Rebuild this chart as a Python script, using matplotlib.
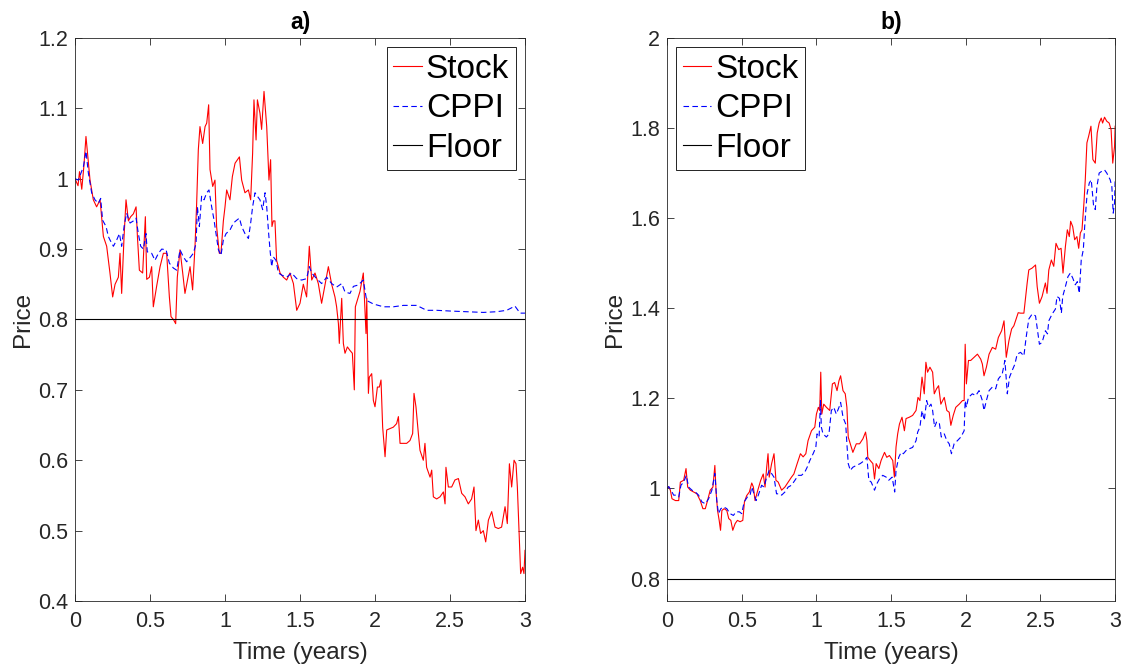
import matplotlib
matplotlib.use("Agg")
import matplotlib.pyplot as plt

plt.rcParams['font.family'] = ['Liberation Sans', 'DejaVu Sans']

# ---- panel a) ----
t_stock_a = [0, 0.02, 0.03, 0.045, 0.06, 0.073, 0.1, 0.122, 0.144, 0.167, 0.189, 0.211, 0.233, 0.251, 0.267,
             0.289, 0.3, 0.311, 0.327, 0.34, 0.356, 0.371, 0.389, 0.407, 0.416, 0.429, 0.451, 0.469, 0.478, 0.496,
             0.511, 0.522, 0.544, 0.567, 0.589, 0.611, 0.629, 0.64, 0.656, 0.671, 0.682, 0.7, 0.718, 0.733, 0.751,
             0.767, 0.784, 0.8, 0.811, 0.822, 0.833, 0.851, 0.867, 0.878, 0.891, 0.9, 0.918, 0.933, 0.944, 0.962,
             0.973, 0.989, 1.0, 1.011, 1.033, 1.049, 1.067, 1.096, 1.111, 1.133, 1.156, 1.171, 1.184, 1.193, 1.207,
             1.216, 1.233, 1.244, 1.26, 1.278, 1.293, 1.304, 1.313, 1.322, 1.333, 1.344, 1.367, 1.389, 1.411, 1.433,
             1.456, 1.478, 1.5, 1.522, 1.544, 1.562, 1.578, 1.6, 1.622, 1.644, 1.667, 1.689, 1.711, 1.733, 1.744,
             1.756, 1.762, 1.778, 1.789, 1.8, 1.816, 1.833, 1.849, 1.862, 1.869, 1.9, 1.922, 1.94, 1.945, 1.956,
             1.962, 1.978, 1.989, 2.0, 2.016, 2.029, 2.04, 2.051, 2.067, 2.078, 2.1, 2.122, 2.144, 2.156, 2.167,
             2.189, 2.211, 2.233, 2.251, 2.26, 2.273, 2.289, 2.3, 2.322, 2.333, 2.344, 2.367, 2.378, 2.389, 2.411,
             2.433, 2.456, 2.467, 2.473, 2.489, 2.511, 2.533, 2.556, 2.578, 2.6, 2.622, 2.644, 2.66, 2.673, 2.689,
             2.704, 2.722, 2.738, 2.756, 2.778, 2.8, 2.822, 2.844, 2.856, 2.867, 2.882, 2.896, 2.911, 2.927, 2.94,
             2.949, 2.96, 2.971, 2.984, 2.993, 3.0]
stock_a = [1.0, 0.99, 1.01, 0.985, 1.02, 1.06, 0.998, 0.97, 0.96, 0.97, 0.918, 0.904, 0.866, 0.832, 0.85,
           0.86, 0.894, 0.837, 0.918, 0.97, 0.94, 0.946, 0.95, 0.96, 0.918, 0.87, 0.866, 0.946, 0.857, 0.86,
           0.875, 0.818, 0.847, 0.875, 0.894, 0.894, 0.832, 0.804, 0.80, 0.794, 0.86, 0.899, 0.866, 0.837, 0.857,
           0.875, 0.842, 0.904, 0.965, 1.041, 1.074, 1.05, 1.074, 1.079, 1.105, 1.013, 0.989, 0.998, 0.932, 0.894,
           0.894, 0.94, 0.96, 0.984, 0.97, 1.003, 1.022, 1.031, 0.998, 0.98, 0.984, 0.97, 1.036, 1.112, 1.055,
           1.112, 1.093, 1.07, 1.124, 1.074, 0.998, 1.027, 0.932, 0.94, 0.94, 0.884, 0.866, 0.86, 0.856, 0.866,
           0.851, 0.813, 0.823, 0.85, 0.832, 0.904, 0.856, 0.866, 0.851, 0.823, 0.85, 0.875, 0.85, 0.832, 0.818,
           0.794, 0.766, 0.83, 0.766, 0.752, 0.761, 0.756, 0.752, 0.7, 0.818, 0.84, 0.866, 0.78, 0.83, 0.695,
           0.718, 0.723, 0.685, 0.676, 0.704, 0.704, 0.714, 0.647, 0.605, 0.643, 0.645, 0.647, 0.652, 0.662, 0.624,
           0.624, 0.624, 0.628, 0.638, 0.695, 0.676, 0.638, 0.614, 0.6, 0.624, 0.59, 0.576, 0.586, 0.548, 0.545,
           0.548, 0.555, 0.538, 0.59, 0.562, 0.562, 0.572, 0.574, 0.553, 0.548, 0.538, 0.545, 0.562, 0.5, 0.515,
           0.496, 0.5, 0.484, 0.515, 0.527, 0.505, 0.503, 0.505, 0.52, 0.534, 0.51, 0.595, 0.562, 0.6, 0.595,
           0.562, 0.5, 0.439, 0.448, 0.439, 0.472]

t_cppi_a = [0, 0.022, 0.056, 0.073, 0.089, 0.111, 0.133, 0.156, 0.171, 0.184, 0.207, 0.222, 0.233, 0.256, 0.278,
            0.296, 0.311, 0.327, 0.344, 0.367, 0.389, 0.407, 0.422, 0.438, 0.456, 0.473, 0.482, 0.511, 0.533,
            0.556, 0.578, 0.607, 0.629, 0.656, 0.678, 0.7, 0.722, 0.744, 0.771, 0.789, 0.807, 0.816, 0.829, 0.844,
            0.86, 0.878, 0.893, 0.911, 0.927, 0.94, 0.956, 0.973, 0.989, 1.007, 1.033, 1.056, 1.078, 1.096, 1.111,
            1.133, 1.156, 1.171, 1.184, 1.2, 1.216, 1.233, 1.251, 1.267, 1.278, 1.291, 1.3, 1.311, 1.322, 1.34,
            1.356, 1.378, 1.411, 1.444, 1.478, 1.511, 1.544, 1.562, 1.578, 1.611, 1.644, 1.678, 1.711, 1.744,
            1.778, 1.8, 1.833, 1.856, 1.889, 1.922, 1.944, 1.989, 2.056, 2.122, 2.189, 2.278, 2.344, 2.411, 2.5,
            2.611, 2.722, 2.811, 2.878, 2.933, 2.967, 3.0]
cppi_a = [1.0, 0.998, 1.017, 1.039, 1.008, 0.98, 0.97, 0.965, 0.972, 0.941, 0.932, 0.918, 0.913, 0.904, 0.913,
          0.922, 0.904, 0.932, 0.951, 0.937, 0.94, 0.944, 0.922, 0.904, 0.9, 0.922, 0.896, 0.894, 0.884,
          0.894, 0.9, 0.899, 0.88, 0.873, 0.87, 0.899, 0.889, 0.882, 0.889, 0.894, 0.908, 0.96, 0.932, 0.975,
          0.97, 0.98, 0.984, 0.96, 0.941, 0.922, 0.899, 0.891, 0.913, 0.922, 0.927, 0.937, 0.941, 0.944, 0.932,
          0.922, 0.915, 0.937, 0.96, 0.98, 0.975, 0.97, 0.956, 0.98, 0.96, 0.922, 0.899, 0.875, 0.889, 0.884,
          0.866, 0.863, 0.86, 0.866, 0.858, 0.856, 0.858, 0.875, 0.866, 0.858, 0.851, 0.86, 0.851, 0.846,
          0.851, 0.839, 0.837, 0.847, 0.849, 0.856, 0.827, 0.822, 0.818, 0.818, 0.82, 0.82, 0.813, 0.813, 0.812,
          0.811, 0.81, 0.811, 0.813, 0.819, 0.809, 0.809]

# ---- panel b) ----
t_stock_b = [0, 0.011, 0.022, 0.033, 0.056, 0.078, 0.089, 0.111, 0.127, 0.138, 0.156, 0.178, 0.2, 0.222, 0.24,
             0.256, 0.271, 0.289, 0.307, 0.32, 0.329, 0.338, 0.349, 0.358, 0.367, 0.382, 0.4, 0.413, 0.427, 0.44,
             0.456, 0.471, 0.489, 0.507, 0.518, 0.533, 0.551, 0.567, 0.578, 0.589, 0.604, 0.627, 0.644, 0.656,
             0.667, 0.676, 0.684, 0.7, 0.716, 0.729, 0.744, 0.767, 0.789, 0.811, 0.833, 0.849, 0.871, 0.893, 0.911,
             0.929, 0.944, 0.967, 0.989, 1.0, 1.013, 1.022, 1.029, 1.036, 1.049, 1.067, 1.089, 1.107, 1.122, 1.138,
             1.151, 1.162, 1.178, 1.193, 1.204, 1.213, 1.227, 1.244, 1.267, 1.289, 1.311, 1.329, 1.338, 1.344,
             1.36, 1.378, 1.389, 1.4, 1.418, 1.433, 1.456, 1.471, 1.489, 1.511, 1.522, 1.533, 1.544, 1.556, 1.573,
             1.589, 1.6, 1.622, 1.644, 1.667, 1.68, 1.693, 1.707, 1.722, 1.733, 1.744, 1.76, 1.778, 1.789, 1.804,
             1.818, 1.833, 1.856, 1.873, 1.889, 1.9, 1.916, 1.933, 1.956, 1.978, 1.989, 1.996, 2.004, 2.018, 2.033,
             2.056, 2.078, 2.1, 2.111, 2.122, 2.138, 2.156, 2.178, 2.2, 2.218, 2.24, 2.256, 2.271, 2.289, 2.307,
             2.322, 2.333, 2.351, 2.367, 2.389, 2.411, 2.422, 2.444, 2.467, 2.478, 2.493, 2.511, 2.533, 2.544,
             2.556, 2.573, 2.589, 2.604, 2.622, 2.638, 2.651, 2.667, 2.68, 2.693, 2.702, 2.716, 2.729, 2.744,
             2.756, 2.767, 2.778, 2.791, 2.8, 2.811, 2.822, 2.838, 2.851, 2.867, 2.88, 2.893, 2.907, 2.916, 2.929,
             2.944, 2.96, 2.973, 2.984, 2.996, 3.0]
stock_b = [1.0, 1.004, 0.996, 0.977, 0.973, 0.973, 1.014, 1.018, 1.044, 1.003, 0.996, 0.992, 0.988, 0.973, 0.955,
           0.955, 0.973, 0.996, 1.003, 1.051, 0.988, 0.951, 0.929, 0.907, 0.951, 0.955, 0.951, 0.933, 0.929, 0.907,
           0.922, 0.929, 0.926, 0.929, 0.97, 0.984, 0.992, 1.012, 1.003, 0.973, 0.992, 1.018, 1.032, 1.003,
           1.047, 1.077, 1.025, 1.055, 1.077, 1.018, 1.014, 0.996, 1.003, 1.014, 1.025, 1.032, 1.055, 1.077, 1.07,
           1.077, 1.106, 1.128, 1.136, 1.165, 1.18, 1.173, 1.258, 1.165, 1.187, 1.18, 1.173, 1.232, 1.235, 1.217,
           1.239, 1.25, 1.217, 1.21, 1.18, 1.114, 1.099, 1.08, 1.099, 1.099, 1.11, 1.125, 1.106, 1.069,
           1.062, 1.055, 1.021, 1.055, 1.044, 1.062, 1.08, 1.069, 1.073, 1.062, 1.025, 1.092, 1.121, 1.143, 1.158,
           1.128, 1.155, 1.158, 1.162, 1.173, 1.202, 1.195, 1.247, 1.21, 1.28, 1.258, 1.269, 1.258, 1.21, 1.221,
           1.228, 1.187, 1.202, 1.173, 1.169, 1.14, 1.162, 1.18, 1.187, 1.195, 1.195, 1.32, 1.232, 1.284, 1.284,
           1.291, 1.298, 1.287, 1.276, 1.25, 1.269, 1.298, 1.313, 1.309, 1.335, 1.35, 1.372, 1.291, 1.328, 1.354,
           1.361, 1.372, 1.39, 1.389, 1.389, 1.456, 1.485, 1.489, 1.496, 1.448, 1.411, 1.426, 1.456, 1.433,
           1.485, 1.507, 1.493, 1.544, 1.53, 1.533, 1.478, 1.537, 1.574, 1.559, 1.593, 1.581, 1.552, 1.559,
           1.533, 1.567, 1.574, 1.633, 1.685, 1.767, 1.781, 1.804, 1.73, 1.722, 1.789, 1.811, 1.822, 1.811, 1.824,
           1.815, 1.811, 1.796, 1.722, 1.759, 1.804]

t_cppi_b = [0, 0.011, 0.027, 0.044, 0.062, 0.078, 0.093, 0.111, 0.129, 0.144, 0.167, 0.189, 0.211, 0.233, 0.256,
            0.278, 0.3, 0.32, 0.333, 0.344, 0.36, 0.378, 0.4, 0.422, 0.444, 0.462, 0.484, 0.5, 0.516, 0.538, 0.556,
            0.567, 0.582, 0.596, 0.611, 0.633, 0.649, 0.667, 0.684, 0.7, 0.716, 0.733, 0.756, 0.767, 0.789, 0.811,
            0.833, 0.856, 0.878, 0.9, 0.922, 0.938, 0.956, 0.978, 0.996, 1.004, 1.018, 1.027, 1.033, 1.044, 1.067,
            1.084, 1.1, 1.116, 1.133, 1.151, 1.162, 1.178, 1.196, 1.204, 1.213, 1.227, 1.244, 1.267, 1.293, 1.322,
            1.338, 1.351, 1.367, 1.389, 1.404, 1.422, 1.444, 1.467, 1.484, 1.507, 1.524, 1.533, 1.551, 1.567,
            1.582, 1.6, 1.622, 1.644, 1.667, 1.678, 1.693, 1.707, 1.722, 1.738, 1.751, 1.767, 1.778, 1.791, 1.804,
            1.822, 1.836, 1.856, 1.873, 1.889, 1.904, 1.922, 1.944, 1.967, 1.989, 1.996, 2.004, 2.018, 2.044,
            2.067, 2.089, 2.111, 2.122, 2.138, 2.156, 2.178, 2.2, 2.218, 2.244, 2.262, 2.278, 2.293, 2.311, 2.329,
            2.344, 2.367, 2.389, 2.404, 2.422, 2.444, 2.467, 2.478, 2.493, 2.511, 2.533, 2.547, 2.556, 2.578, 2.6,
            2.611, 2.627, 2.64, 2.649, 2.667, 2.684, 2.7, 2.716, 2.733, 2.747, 2.76, 2.773, 2.787, 2.796, 2.804,
            2.813, 2.827, 2.84, 2.856, 2.867, 2.878, 2.893, 2.911, 2.929, 2.944, 2.967, 2.978, 2.987, 2.996, 3.0]
cppi_b = [1.0, 1.004, 0.996, 0.985, 0.985, 0.981, 1.007, 1.014, 1.029, 1.003, 0.996, 0.992, 0.985, 0.97, 0.966,
          0.977, 0.996, 1.033, 0.973, 0.944, 0.955, 0.959, 0.955, 0.944, 0.94, 0.948, 0.948, 0.944, 0.97, 0.981,
          0.985, 1.003, 0.988, 0.973, 0.985, 1.007, 1.003, 1.025, 1.04, 1.033, 1.025, 0.988, 0.988, 0.985,
          0.992, 1.003, 1.007, 1.018, 1.029, 1.029, 1.036, 1.047, 1.062, 1.077, 1.091, 1.121, 1.114, 1.195, 1.136,
          1.121, 1.114, 1.121, 1.173, 1.18, 1.165, 1.18, 1.191, 1.158, 1.143, 1.099, 1.055, 1.04, 1.047, 1.051,
          1.055, 1.062, 1.069, 1.018, 1.014, 0.996, 1.01, 1.021, 1.029, 1.025, 1.018, 1.025, 0.992, 1.04, 1.069,
          1.08, 1.077, 1.084, 1.088, 1.091, 1.106, 1.125, 1.136, 1.173, 1.151, 1.195, 1.18, 1.187, 1.173, 1.136,
          1.147, 1.147, 1.114, 1.121, 1.106, 1.099, 1.077, 1.099, 1.106, 1.114, 1.128, 1.195, 1.18, 1.202, 1.21,
          1.206, 1.217, 1.195, 1.173, 1.195, 1.217, 1.225, 1.221, 1.243, 1.254, 1.284, 1.21, 1.247, 1.262, 1.276,
          1.298, 1.302, 1.294, 1.335, 1.376, 1.387, 1.383, 1.357, 1.32, 1.324, 1.35, 1.343, 1.372, 1.387, 1.398,
          1.426, 1.422, 1.389, 1.426, 1.448, 1.47, 1.478, 1.467, 1.452, 1.459, 1.433, 1.507, 1.53, 1.581, 1.619,
          1.656, 1.678, 1.685, 1.626, 1.619, 1.67, 1.7, 1.704, 1.707, 1.7, 1.685, 1.67, 1.611, 1.633, 1.685]

floor_level = 0.8
panel_titles = ['a)', 'b)']
series_labels = ['Stock', 'CPPI', 'Floor']
yticks_a = [0.4, 0.5, 0.6, 0.7, 0.8, 0.9, 1.0, 1.1, 1.2]
yticks_b = [0.8, 1.0, 1.2, 1.4, 1.6, 1.8, 2.0]
xticks = [0, 0.5, 1, 1.5, 2, 2.5, 3]


def fmt(v):
    return ('%g' % round(v, 2))


fig = plt.figure(figsize=(11.23, 6.65), dpi=100)
ax1 = fig.add_axes([0.0668, 0.0962, 0.4007, 0.8468])
ax2 = fig.add_axes([0.5940, 0.0962, 0.3990, 0.8468])

panels = [
    (ax1, t_stock_a, stock_a, t_cppi_a, cppi_a, yticks_a, (0.4, 1.2), 'upper right'),
    (ax2, t_stock_b, stock_b, t_cppi_b, cppi_b, yticks_b, (0.75, 2.0), 'upper left'),
]

grey = (0.15, 0.15, 0.15)
for i, (ax, ts, s, tc, c, yt, yl, loc) in enumerate(panels):
    ax.plot(ts, s, color='red', lw=0.8, label=series_labels[0])
    ax.plot(tc, c, color='blue', lw=0.8, dashes=(5, 3), label=series_labels[1])
    ax.plot([0, 3], [floor_level, floor_level], color='black', lw=0.8, label=series_labels[2])

    ax.set_xlim(0, 3)
    ax.set_ylim(*yl)
    ax.set_xticks(xticks)
    ax.set_xticklabels([fmt(x) for x in xticks])
    ax.set_yticks(yt)
    ax.set_yticklabels([fmt(y) for y in yt])
    ax.tick_params(direction='in', top=True, right=True, length=5, width=0.6,
                   labelsize=15.5, colors=grey)
    ax.tick_params(axis='x', pad=7.5)
    ax.tick_params(axis='y', pad=5)
    for sp in ax.spines.values():
        sp.set_color(grey)
        sp.set_linewidth(0.6)

    ax.set_xlabel('Time (years)', fontsize=17.5, color=grey, labelpad=7)
    ax.set_ylabel('Price', fontsize=17.5, color=grey, labelpad=3)
    ax.set_title(panel_titles[i], fontsize=16.5, fontweight='bold', pad=6.5)

    leg = ax.legend(loc=loc, fontsize=24, fancybox=False, framealpha=1,
                    edgecolor='black', handlelength=0.85, handletextpad=0.12,
                    labelspacing=0.25, borderpad=0.2, borderaxespad=0.28)
    leg.get_frame().set_linewidth(0.6)

plt.savefig('out.png', dpi=100)
